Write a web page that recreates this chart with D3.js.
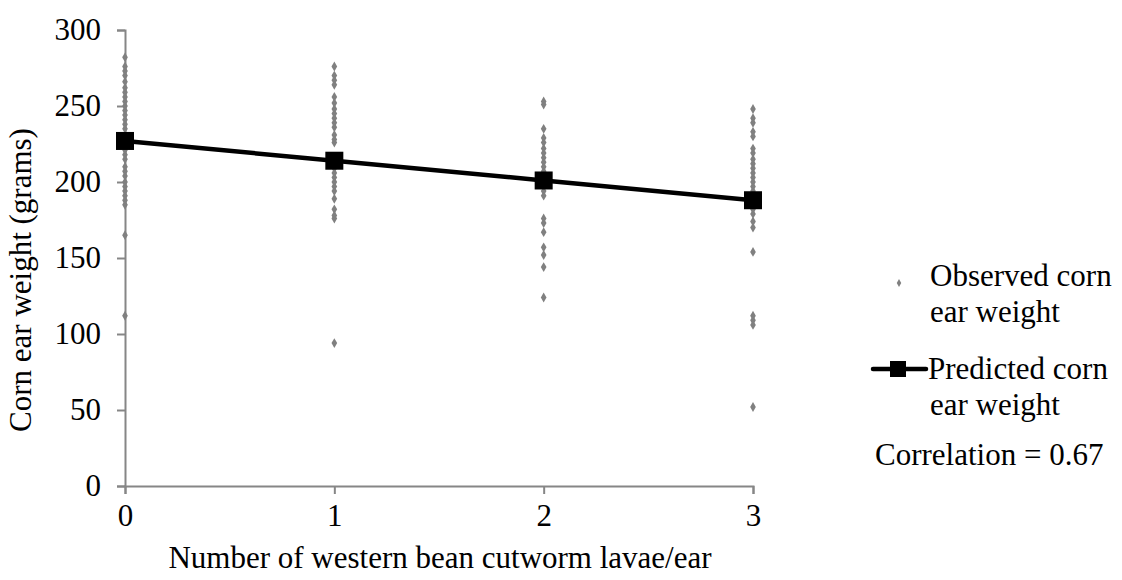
<!DOCTYPE html>
<html>
<head>
<meta charset="utf-8">
<script src="https://cdn.jsdelivr.net/npm/d3@7"></script>
<style>
  body { margin: 0; background: #fff; }
  text { font-family: "Liberation Serif", "Times New Roman", serif; fill: #000; }
</style>
</head>
<body>
<div id="chart"></div>
<script>
// larvae count categories
var larvae = [0, 1, 2, 3];

// observed ear weights per larvae count
var observed0 = [282, 276, 273, 270, 266, 262, 259, 256, 253, 250, 247, 244, 241, 238, 235, 231, 228, 224, 221, 218, 215, 210, 207, 204, 200, 197, 194, 191, 188, 185, 165, 112];
var observed1 = [276, 270, 267, 264, 256, 252, 248, 245, 242, 239, 236, 231, 228, 226, 209, 206, 203, 200, 197, 194, 189, 182, 178, 176, 94];
var observed2 = [253, 251, 235, 229, 226, 222, 219, 216, 213, 210, 207, 203, 200, 197, 194, 191, 176, 173, 167, 157, 152, 144, 124];
var observed3 = [248, 242, 239, 233, 230, 222, 219, 215, 212, 209, 206, 203, 200, 197, 194, 191, 187, 182, 179, 174, 170, 154, 112, 109, 106, 52];

// regression predictions
var predicted = [227, 214, 201, 188];

var yTicks = [0, 50, 100, 150, 200, 250, 300];

var width = 1122, height = 580;
var margin = {left: 125, top: 30, right: 369, bottom: 94};
var fontSize = "31px";

var svg = d3.select("#chart")
  .append("svg")
  .attr("width", width)
  .attr("height", height);

var x = d3.scaleLinear().domain([0, 3]).range([margin.left, width - margin.right]);
var y = d3.scaleLinear().domain([0, 300]).range([height - margin.bottom, margin.top]);

var axisColor = "#868686";

// y axis
var yAxis = svg.append("g")
  .attr("transform", "translate(" + margin.left + ",0)")
  .call(d3.axisLeft(y).tickValues(yTicks).tickSize(8).tickPadding(16));

// x axis
var xAxis = svg.append("g")
  .attr("transform", "translate(0," + y(0) + ")")
  .call(d3.axisBottom(x).tickValues(larvae).tickFormat(d3.format("d")).tickSize(8).tickPadding(10));

svg.selectAll(".domain, .tick line").attr("stroke", axisColor).attr("stroke-width", 2);
svg.selectAll(".tick text")
  .attr("fill", "#000")
  .style("font-family", "Liberation Serif")
  .style("font-size", fontSize);

// axis titles
svg.append("text")
  .attr("transform", "translate(31,280) rotate(-90)")
  .attr("text-anchor", "middle")
  .style("font-size", fontSize)
  .text("Corn ear weight (grams)");

svg.append("text")
  .attr("x", 440)
  .attr("y", 568)
  .attr("text-anchor", "middle")
  .style("font-size", fontSize)
  .text("Number of western bean cutworm lavae/ear");

// observed points
var obsData = [];
[observed0, observed1, observed2, observed3].forEach(function(arr, i) {
  arr.forEach(function(v) { obsData.push({x: larvae[i], y: v}); });
});

var diamond = d3.symbol().type(d3.symbolDiamond).size(28);

svg.append("g").selectAll("path")
  .data(obsData)
  .enter()
  .append("path")
  .attr("d", diamond)
  .attr("transform", function(d) { return "translate(" + x(d.x) + "," + y(d.y) + ")"; })
  .attr("fill", "#808080");

// predicted line
var predData = larvae.map(function(d, i) { return {x: d, y: predicted[i]}; });
var line = d3.line().x(function(d) { return x(d.x); }).y(function(d) { return y(d.y); });

svg.append("path")
  .datum(predData)
  .attr("d", line)
  .attr("fill", "none")
  .attr("stroke", "#000")
  .attr("stroke-width", 4.5);

svg.append("g").selectAll("rect")
  .data(predData)
  .enter()
  .append("rect")
  .attr("x", function(d) { return x(d.x) - 9; })
  .attr("y", function(d) { return y(d.y) - 9; })
  .attr("width", 18)
  .attr("height", 18)
  .attr("fill", "#000");

// legend
var legend = svg.append("g");
legend.append("path")
  .attr("d", d3.symbol().type(d3.symbolDiamond).size(18))
  .attr("transform", "translate(899,283)")
  .attr("fill", "#808080");
legend.append("text").attr("x", 930).attr("y", 286).style("font-size", fontSize).text("Observed corn");
legend.append("text").attr("x", 930).attr("y", 322).style("font-size", fontSize).text("ear weight");

legend.append("line")
  .attr("x1", 873).attr("x2", 926).attr("y1", 369).attr("y2", 369)
  .attr("stroke", "#000").attr("stroke-width", 4.5).attr("stroke-linecap", "round");
legend.append("rect")
  .attr("x", 890).attr("y", 361).attr("width", 16).attr("height", 16)
  .attr("fill", "#000");
legend.append("text").attr("x", 928).attr("y", 379).style("font-size", fontSize).text("Predicted corn");
legend.append("text").attr("x", 930).attr("y", 415).style("font-size", fontSize).text("ear weight");

legend.append("text").attr("x", 875).attr("y", 465).style("font-size", fontSize).text("Correlation = 0.67");
</script>
</body>
</html>
